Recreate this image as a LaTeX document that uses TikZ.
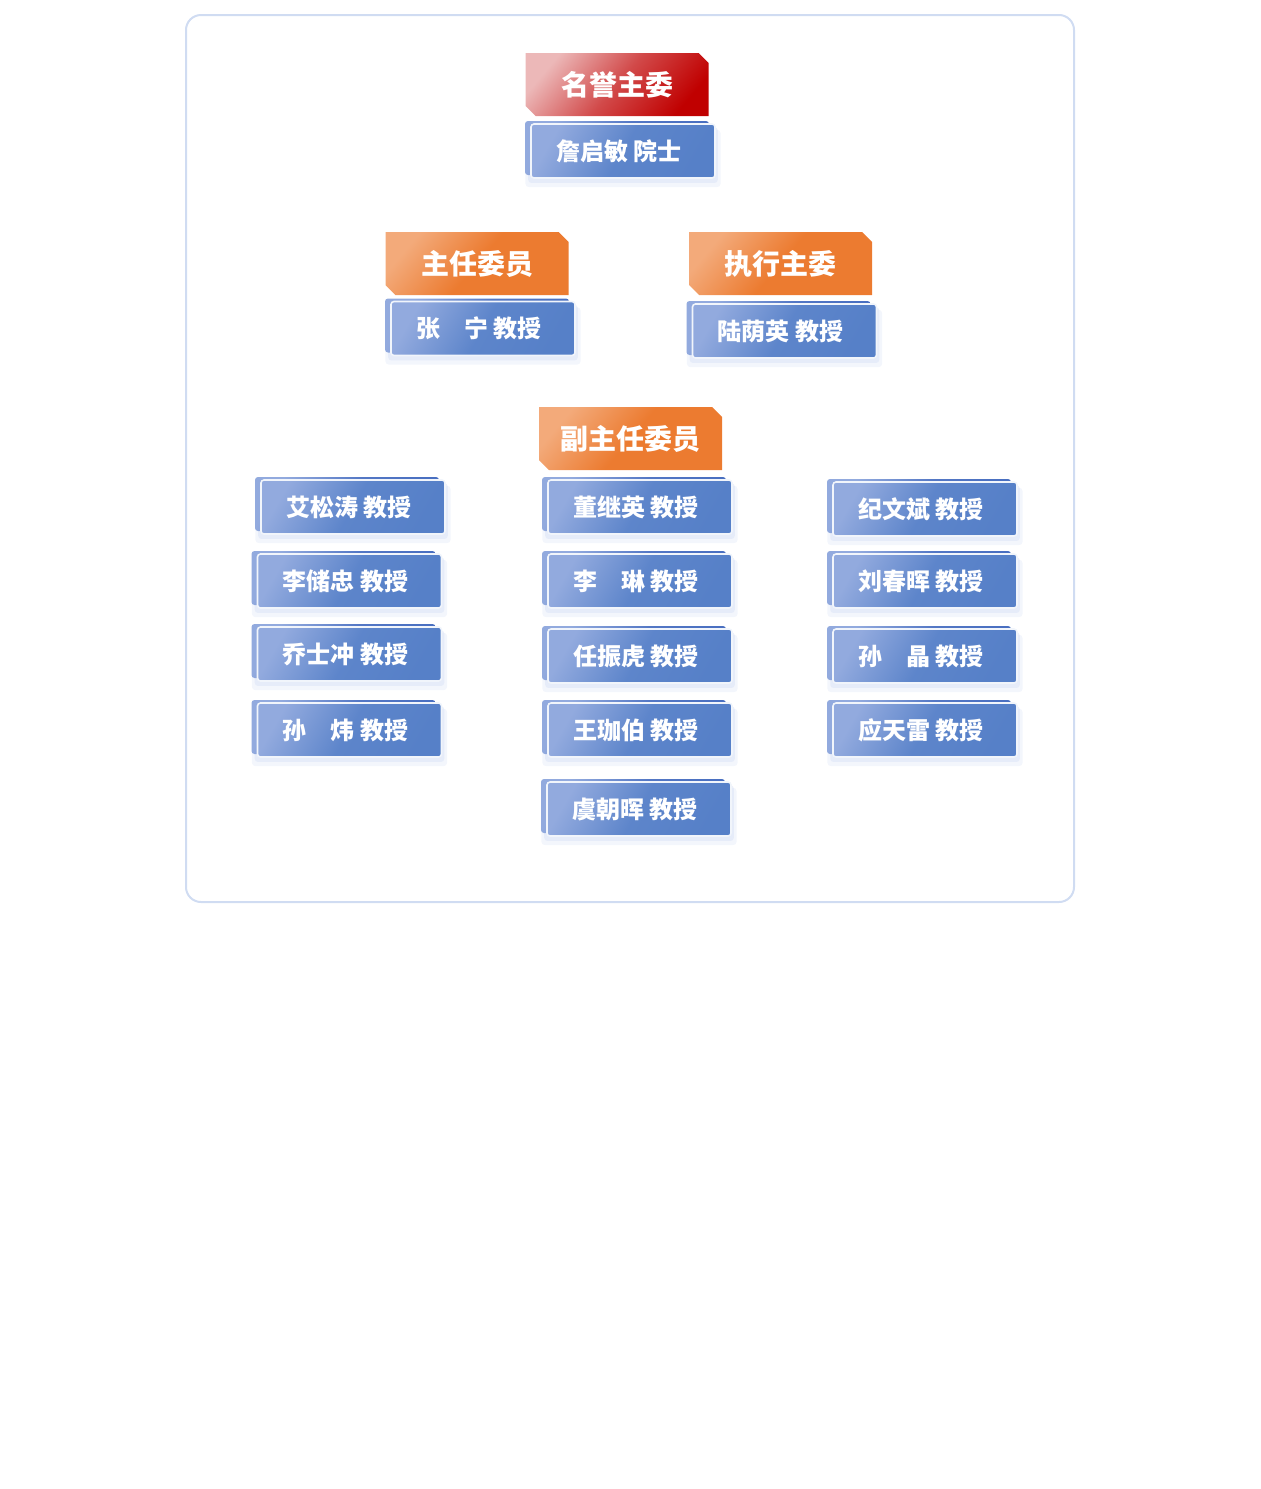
\documentclass[tikz,border=0pt]{standalone}
\usepackage{fontspec}
\newfontfamily\cjk{Noto Sans CJK SC}
\usetikzlibrary{shapes.misc,shadows}
\definecolor{rojoclaro}{RGB}{236,184,184}
\definecolor{rojo}{RGB}{192,0,0}
\definecolor{naranjaclaro}{RGB}{243,170,122}
\definecolor{naranja}{RGB}{236,123,48}
\definecolor{azulclaro}{RGB}{146,170,222}
\definecolor{azul}{RGB}{86,128,200}
\definecolor{azulfondo}{RGB}{72,110,192}
\definecolor{marco}{RGB}{208,220,242}
\definecolor{brillo}{RGB}{214,224,245}

\tikzset{
  titulo/.style={chamfered rectangle,
    chamfered rectangle corners={north east,south west},
    chamfered rectangle xsep=5pt, chamfered rectangle ysep=5pt,
    minimum width=183pt, minimum height=63pt, inner sep=0pt,
    text=white, font=\cjk\bfseries\fontsize{28}{32}\selectfont},
  titulo rojo/.style={titulo, top color=rojoclaro, bottom color=rojo,
    middle color=rojo!60!rojoclaro, shading angle=50},
  titulo naranja/.style={titulo, top color=naranjaclaro, bottom color=naranja,
    middle color=naranja, shading angle=50},
  miembro/.style={rectangle, rounded corners=3pt,
    minimum width=184pt, minimum height=54pt, inner sep=0pt,
    general shadow={fill=brillo, fill opacity=0.3, shadow yshift=-7pt,
      shadow scale=1.06},
    general shadow={fill=brillo, fill opacity=0.45, shadow yshift=-4pt,
      shadow scale=1.03},
    general shadow={top color=azulclaro, bottom color=azulfondo,
      middle color=azulfondo!85!azulclaro, shading angle=60,
      shadow xshift=-6pt, shadow yshift=3pt},
    top color=azulclaro, bottom color=azul, middle color=azul!88!azulclaro,
    shading angle=60, draw=white!92!azul, line width=1.6pt,
    text=white, font=\cjk\bfseries\fontsize{24}{28}\selectfont,
    execute at begin node={\hspace*{-8pt}}}
}

\begin{document}
\begin{tikzpicture}[x=1pt, y=-1pt]
  \useasboundingbox (0,0) rectangle (1261,1489);
  % Marco
  \draw[marco, line width=2pt, rounded corners=15pt] (186,15) rectangle (1074,902);

  % Nivel 1
  \node[titulo rojo] (hon) at (617,84.5) {名誉主委};
  \node[miembro] (m-zhan) at (623,151) {詹启敏 院士};

  % Nivel 2
  \node[titulo naranja] (pres) at (477,263.5) {主任委员};
  \node[miembro] (m-zhang) at (483,328.5) {张　宁 教授};
  \node[titulo naranja] (ejec) at (780.5,263.5) {执行主委};
  \node[miembro] (m-lu) at (784.5,331) {陆荫英 教授};

  % Nivel 3
  \node[titulo naranja] (vice) at (630.5,438.5) {副主任委员};
  \node[miembro] (m-ai) at (353,507) {艾松涛 教授};
  \node[miembro] (m-lichu) at (349.5,581) {李储忠 教授};
  \node[miembro] (m-qiao) at (349.5,654) {乔士冲 教授};
  \node[miembro] (m-sunwei) at (349.5,730) {孙　炜 教授};

  \node[miembro] (m-dong) at (640,507) {董继英 教授};
  \node[miembro] (m-lilin) at (640,581) {李　琳 教授};
  \node[miembro] (m-ren) at (640,656) {任振虎 教授};
  \node[miembro] (m-wang) at (640,730) {王珈伯 教授};
  \node[miembro] (m-yu) at (639,809) {虞朝晖 教授};

  \node[miembro] (m-ji) at (925,509) {纪文斌 教授};
  \node[miembro] (m-liu) at (925,581) {刘春晖 教授};
  \node[miembro] (m-sunjing) at (925,656) {孙　晶 教授};
  \node[miembro] (m-ying) at (925,730) {应天雷 教授};
\end{tikzpicture}
\end{document}
